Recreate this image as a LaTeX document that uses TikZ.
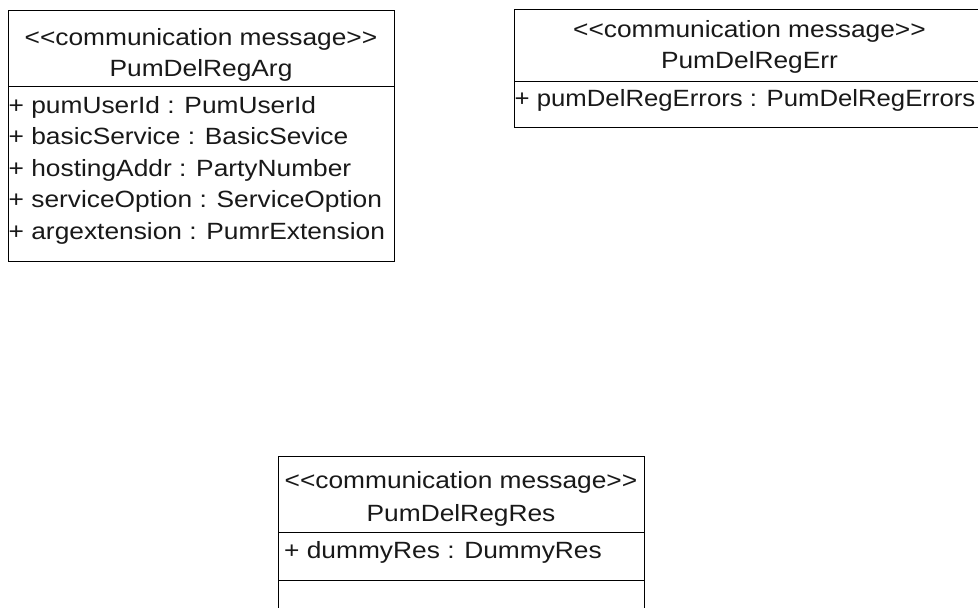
\documentclass[tikz,border=0pt]{standalone}
\usepackage{fontspec}
\newfontfamily\umlfont{Liberation Sans}
\newcommand{\umltxt}[1]{\scalebox{1.12}[1]{#1}}
\newcommand{\umltxtn}[1]{\scalebox{1.095}[1]{#1}}
\begin{document}
\begin{tikzpicture}[x=1pt,y=-1pt,
  umlbox/.style={draw=black, line width=1pt, inner sep=0pt, anchor=north west},
  divline/.style={draw=black, line width=1pt},
  hdr/.style={inner sep=0pt, anchor=base, font=\umlfont\fontsize{23.5}{28}\selectfont, text=black!90},
  attr/.style={inner sep=0pt, anchor=base west, font=\umlfont\fontsize{23.5}{28}\selectfont, text=black!90}]
\useasboundingbox (0,0) rectangle (978,608);
\clip (0,0) rectangle (978,608);
\fill[white] (0,0) rectangle (978,608);

% Box 1
\node[umlbox, minimum width=386pt, minimum height=251pt] (b1) at (8,10) {};
\coordinate (b1d) at (8,86);
\draw[divline] (b1d) -- (b1d -| b1.east);
\node[hdr] (b1s) at (201,45) {\umltxt{<{}<communication message>{}>}};
\node[hdr] (b1n) at (201,76) {\umltxt{PumDelRegArg}};
\node[attr] (b1a1) at (8.5,113) {\umltxt{+ pumUserId : PumUserId}};
\node[attr] (b1a2) at (8.5,144.5) {\umltxt{+ basicService : BasicSevice}};
\node[attr] (b1a3) at (8.5,176) {\umltxt{+ hostingAddr : PartyNumber}};
\node[attr] (b1a4) at (8.5,207.5) {\umltxt{+ serviceOption : ServiceOption}};
\node[attr] (b1a5) at (8.5,239) {\umltxt{+ argextension : PumrExtension}};

% Box 2
\node[umlbox, minimum width=471pt, minimum height=118pt] (b2) at (514,9) {};
\coordinate (b2d) at (514,81);
\draw[divline] (b2d) -- (b2d -| b2.east);
\node[hdr] (b2s) at (749.5,37) {\umltxt{<{}<communication message>{}>}};
\node[hdr] (b2n) at (749.5,68) {\umltxt{PumDelRegErr}};
\node[attr] (b2a1) at (514.5,106) {\umltxtn{+ pumDelRegErrors : PumDelRegErrors}};

% Box 3
\node[umlbox, minimum width=366pt, minimum height=180pt] (b3) at (278,456) {};
\coordinate (b3d) at (278,532);
\coordinate (b3e) at (278,580);
\draw[divline] (b3d) -- (b3d -| b3.east);
\draw[divline] (b3e) -- (b3e -| b3.east);
\node[hdr] (b3s) at (461,488) {\umltxt{<{}<communication message>{}>}};
\node[hdr] (b3n) at (461,521) {\umltxt{PumDelRegRes}};
\node[attr] (b3a1) at (284,558) {\umltxt{+ dummyRes : DummyRes}};
\end{tikzpicture}
\end{document}
